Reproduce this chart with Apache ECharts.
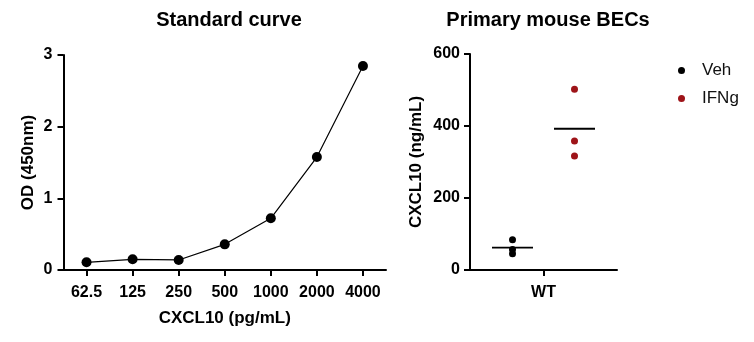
<!DOCTYPE html>
<html><head><meta charset="utf-8">
<script src="https://cdn.jsdelivr.net/npm/echarts@6/dist/echarts.min.js"></script>
<style>html,body{margin:0;padding:0;background:#fff}#c{width:754px;height:342px}</style>
</head><body><div id="c"></div>
<script>
// ---- data ----
const concentrations = ['62.5', '125', '250', '500', '1000', '2000', '4000'];
const odValues = [0.107, 0.149, 0.140, 0.358, 0.721, 1.576, 2.846];
const groups = ['WT'];
const vehValues = [84, 57, 45];
const ifngValues = [502, 358, 317];

const FONT = 'Liberation Sans, Arial, sans-serif';
const mean = a => a.reduce((s, v) => s + v, 0) / a.length;
const RED = '#9e1419';

const axisLineStyle = { show: true, lineStyle: { color: '#000', width: 2 } };
const tickStyle = { show: true, length: 6, lineStyle: { color: '#000', width: 2 } };
const labelStyle = { color: '#000', fontFamily: FONT, fontWeight: 'bold', fontSize: 16 };
const nameStyle = { color: '#000', fontFamily: FONT, fontWeight: 'bold', fontSize: 17 };

const chart = echarts.init(document.getElementById('c'));
chart.setOption({
  animation: false,
  backgroundColor: '#fff',
  title: [
    { text: 'Standard curve', left: 224, top: 5, textAlign: 'center',
      textStyle: { fontFamily: FONT, fontWeight: 'bold', fontSize: 20, color: '#000' } },
    { text: 'Primary mouse BECs', left: 543, top: 5, textAlign: 'center',
      textStyle: { fontFamily: FONT, fontWeight: 'bold', fontSize: 20, color: '#000' } }
  ],
  legend: {
    data: ['Veh', 'IFNg'],
    orient: 'vertical',
    left: 673, top: 57,
    icon: 'circle',
    itemWidth: 7, itemHeight: 7,
    itemGap: 11,
    textStyle: { fontFamily: FONT, fontSize: 17, color: '#111', padding: [0, 0, 0, 12] }
  },
  grid: [
    { left: 63.5, right: 368, top: 55, bottom: 72 },
    { left: 470, right: 137, top: 54, bottom: 72 }
  ],
  xAxis: [
    { type: 'category', gridIndex: 0, data: concentrations, boundaryGap: true,
      axisLine: axisLineStyle, axisTick: Object.assign({ alignWithLabel: true, interval: 0 }, tickStyle),
      axisLabel: Object.assign({ margin: 15, interval: 0 }, labelStyle),
      name: 'CXCL10 (pg/mL)', nameLocation: 'middle', nameGap: 40, nameTextStyle: nameStyle,
      splitLine: { show: false } },
    { type: 'category', gridIndex: 1, data: groups, boundaryGap: true,
      axisLine: axisLineStyle, axisTick: Object.assign({ alignWithLabel: true }, tickStyle),
      axisLabel: Object.assign({ margin: 15 }, labelStyle),
      splitLine: { show: false } }
  ],
  yAxis: [
    { type: 'value', gridIndex: 0, min: 0, max: 3, interval: 1,
      axisLine: axisLineStyle, axisTick: tickStyle,
      axisLabel: Object.assign({ margin: 11 }, labelStyle),
      name: 'OD (450nm)', nameLocation: 'middle', nameGap: 27, nameTextStyle: nameStyle,
      splitLine: { show: false } },
    { type: 'value', gridIndex: 1, min: 0, max: 600, interval: 200,
      axisLine: axisLineStyle, axisTick: tickStyle,
      axisLabel: Object.assign({ margin: 10 }, labelStyle),
      name: 'CXCL10 (ng/mL)', nameLocation: 'middle', nameGap: 45, nameTextStyle: nameStyle,
      splitLine: { show: false } }
  ],
  series: [
    { name: 'Standard', type: 'line', xAxisIndex: 0, yAxisIndex: 0, data: odValues,
      symbol: 'circle', symbolSize: 10, showSymbol: true,
      lineStyle: { color: '#000', width: 1.2 }, itemStyle: { color: '#000' } },
    { name: 'Veh', type: 'scatter', xAxisIndex: 1, yAxisIndex: 1,
      data: vehValues.map(v => [0, v]), symbol: 'circle', symbolSize: 7, symbolOffset: [-31, 0],
      itemStyle: { color: '#000', opacity: 1 } },
    { name: 'IFNg', type: 'scatter', xAxisIndex: 1, yAxisIndex: 1,
      data: ifngValues.map(v => [0, v]), symbol: 'circle', symbolSize: 7, symbolOffset: [31, 0],
      itemStyle: { color: RED, opacity: 1 } },
    { name: 'Veh mean', type: 'scatter', xAxisIndex: 1, yAxisIndex: 1, z: 1,
      data: [[0, mean(vehValues)]], symbol: 'rect', symbolSize: [41, 1.8], symbolOffset: [-31, 0],
      itemStyle: { color: '#000', opacity: 1 } },
    { name: 'IFNg mean', type: 'scatter', xAxisIndex: 1, yAxisIndex: 1, z: 1,
      data: [[0, mean(ifngValues)]], symbol: 'rect', symbolSize: [41, 1.8], symbolOffset: [31, 0],
      itemStyle: { color: '#000', opacity: 1 } }
  ]
});
</script>
</body></html>
